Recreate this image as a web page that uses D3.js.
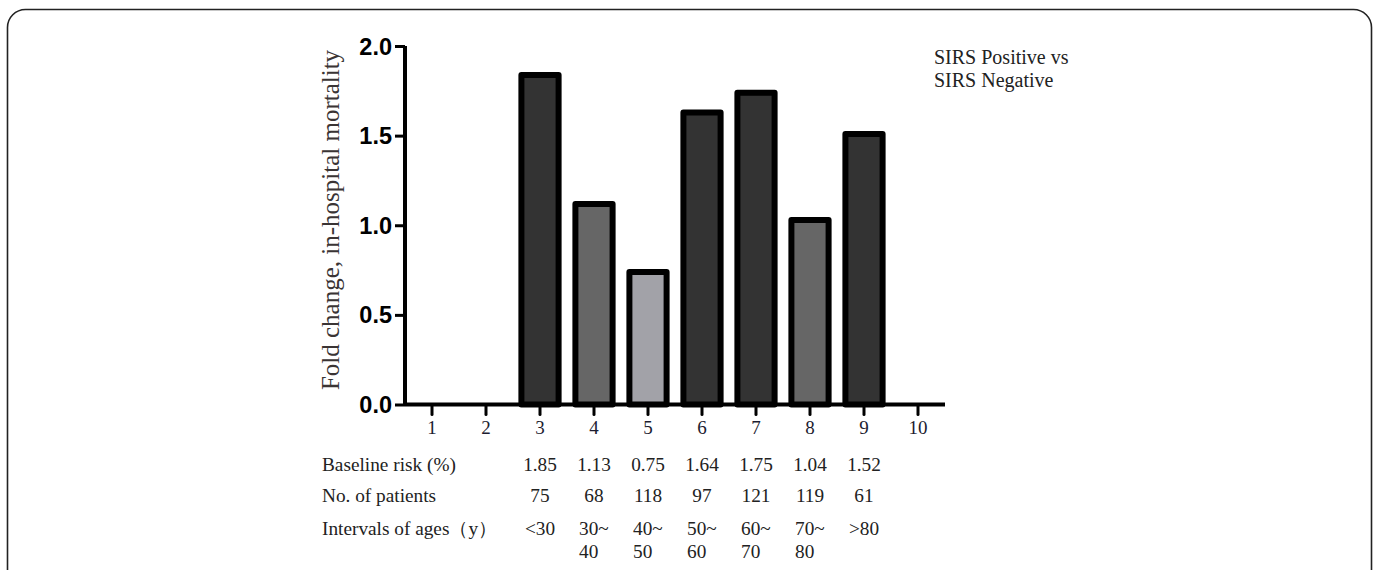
<!DOCTYPE html>
<html>
<head>
<meta charset="utf-8">
<script src="https://cdn.jsdelivr.net/npm/d3@7"></script>
<style>
  html, body { margin: 0; padding: 0; background: #fff; }
  svg { display: block; }
</style>
</head>
<body>
<svg id="chart" width="1378" height="570"></svg>
<script>
// ---- data ----
const categories = [1, 2, 3, 4, 5, 6, 7, 8, 9, 10];
const foldChange = [null, null, 1.85, 1.13, 0.75, 1.64, 1.75, 1.04, 1.52, null];
const yTicks = [0, 0.5, 1.0, 1.5, 2.0];
const tableCategories = [3, 4, 5, 6, 7, 8, 9];
const baselineRisk = ["1.85", "1.13", "0.75", "1.64", "1.75", "1.04", "1.52"];
const patients = ["75", "68", "118", "97", "121", "119", "61"];
const ageIntervals = [["<30"], ["30~", "40"], ["40~", "50"], ["50~", "60"], ["60~", "70"], ["70~", "80"], [">80"]];
const rowLabels = ["Baseline risk (%)", "No. of patients", "Intervals of ages\uFF08y\uFF09"];
const yTitle = "Fold change, in-hospital mortality";
const legendLines = ["SIRS Positive vs", "SIRS Negative"];

// ---- styles ----
const barFills = {3: "#333333", 4: "#666666", 5: "#a2a2a8", 6: "#333333", 7: "#333333", 8: "#666666", 9: "#333333"};
const serif = "'Liberation Serif', 'Times New Roman', serif";
const sans = "'Liberation Sans', Arial, sans-serif";

const svg = d3.select("#chart");

// frame
svg.append("rect")
  .attr("x", 7.5).attr("y", 9.5)
  .attr("width", 1364).attr("height", 620)
  .attr("rx", 18).attr("ry", 18)
  .attr("fill", "none").attr("stroke", "#222").attr("stroke-width", 1.6);

const x = d3.scaleBand().domain(categories).range([405, 945]).paddingInner(0.2).paddingOuter(0.1);
const y = d3.scaleLinear().domain([0, 2]).range([404.5, 46]);

// bars
const barData = categories.map((c, i) => ({c, v: foldChange[i]})).filter(d => d.v != null);
svg.append("g").selectAll("rect").data(barData).enter().append("rect")
  .attr("x", d => x(d.c) + 3)
  .attr("width", x.bandwidth() - 6)
  .attr("y", d => y(d.v) + 2)
  .attr("height", d => y(0) - y(d.v) - 2)
  .attr("fill", d => barFills[d.c])
  .attr("stroke", "#000")
  .attr("stroke-width", 6)
  .attr("stroke-linejoin", "round");

// y axis
const yAxis = svg.append("g").attr("transform", "translate(405,0)")
  .call(d3.axisLeft(y).tickValues(yTicks).tickFormat(d3.format(".1f")).tickSize(10).tickPadding(3));
yAxis.select(".domain").attr("d", `M0,${y(2)}V${y(0)}`).attr("stroke", "#000").attr("stroke-width", 4);
yAxis.selectAll(".tick line").attr("stroke", "#000").attr("stroke-width", 3);
yAxis.selectAll(".tick text")
  .attr("font-family", sans).attr("font-weight", "bold").attr("font-size", 23.5)
  .attr("fill", "#000").attr("dy", "0.34em");

// x axis
const xAxis = svg.append("g").attr("transform", `translate(0,${y(0)})`)
  .call(d3.axisBottom(x).tickSize(10).tickPadding(6));
xAxis.select(".domain").attr("d", "M405,0H945").attr("stroke", "#000").attr("stroke-width", 4);
xAxis.selectAll(".tick line").attr("stroke", "#000").attr("stroke-width", 3).attr("stroke-linecap", "round");
xAxis.selectAll(".tick text")
  .attr("font-family", serif).attr("font-size", 19).attr("fill", "#1c1c30");

// y title
svg.append("text")
  .attr("transform", `translate(339,220) rotate(-90)`)
  .attr("text-anchor", "middle")
  .attr("font-family", serif).attr("font-size", 25).attr("fill", "#3a3434")
  .text(yTitle);

// legend
svg.append("g").selectAll("text").data(legendLines).enter().append("text")
  .attr("x", 934).attr("y", (d, i) => 64 + i * 23)
  .attr("font-family", serif).attr("font-size", 20).attr("fill", "#222")
  .text(d => d);

// table
const rowY = [471, 502, 535];
svg.append("g").selectAll("text").data(rowLabels).enter().append("text")
  .attr("x", 322).attr("y", (d, i) => rowY[i])
  .attr("font-family", serif).attr("font-size", 19.3).attr("fill", "#222")
  .text(d => d);

const colX = c => x(c) + x.bandwidth() / 2;

svg.append("g").selectAll("text").data(baselineRisk).enter().append("text")
  .attr("x", (d, i) => colX(tableCategories[i])).attr("y", rowY[0])
  .attr("text-anchor", "middle")
  .attr("font-family", serif).attr("font-size", 19.3).attr("fill", "#222")
  .text(d => d);

svg.append("g").selectAll("text").data(patients).enter().append("text")
  .attr("x", (d, i) => colX(tableCategories[i])).attr("y", rowY[1])
  .attr("text-anchor", "middle")
  .attr("font-family", serif).attr("font-size", 19.3).attr("fill", "#222")
  .text(d => d);

const ageG = svg.append("g").selectAll("text").data(ageIntervals).enter().append("text")
  .attr("font-family", serif).attr("font-size", 19.3).attr("fill", "#222");
ageG.selectAll("tspan").data((d, i) => d.map(s => ({s, i}))).enter().append("tspan")
  .attr("x", d => colX(tableCategories[d.i]) - 15)
  .attr("y", (d, j) => rowY[2] + j * 23)
  .text(d => d.s);
</script>
</body>
</html>
